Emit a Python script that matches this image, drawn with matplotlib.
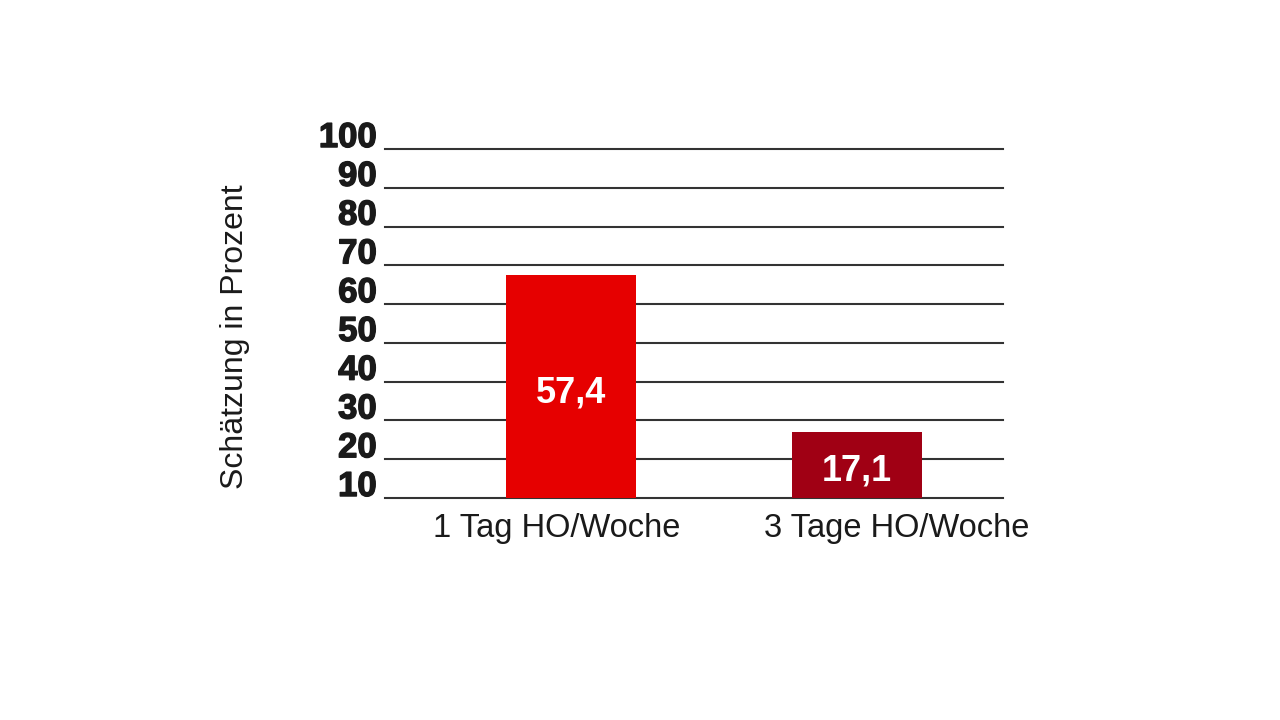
import matplotlib
matplotlib.use('Agg')
import matplotlib.pyplot as plt
import matplotlib.transforms as mtransforms
import matplotlib.patheffects as pe

categories = ['1 Tag HO/Woche', '3 Tage HO/Woche']
values = [57.4, 17.1]
value_labels = ['57,4', '17,1']
bar_colors = ['#e60000', '#a00014']
y_ticks = [10, 20, 30, 40, 50, 60, 70, 80, 90, 100]
base = 10

plt.rcParams['font.family'] = ['Liberation Sans', 'DejaVu Sans']

fig = plt.figure(figsize=(12.8, 7.2), dpi=100)
ax = fig.add_axes([0.3008, 0.3083, 0.4828, 0.4847])

x = list(range(len(categories)))
ax.bar(x, values, bottom=base, width=0.4545, color=bar_colors, zorder=3)

for xi, v, lab in zip(x, values, value_labels):
    ax.text(xi, base + v / 2 - 1.5, lab, color='white', fontsize=26,
            fontweight='bold', ha='center', va='center', zorder=4)

# grid lines
for t in y_ticks:
    ax.axhline(t, color='#333333', linewidth=1.5, zorder=1, clip_on=False)

ax.set_xlim(-0.65, 1.51)
ax.set_ylim(base, 100)
ax.set_yticks(y_ticks)
ax.set_yticklabels([str(t) for t in y_ticks], fontsize=25, fontweight='bold',
                   color='#1a1a1a')
ax.tick_params(axis='y', length=0, pad=6)
shift = mtransforms.ScaledTranslation(0, 15 / 100, fig.dpi_scale_trans)
for lbl in ax.get_yticklabels():
    lbl.set_transform(lbl.get_transform() + shift)
    lbl.set_path_effects([pe.withStroke(linewidth=1.0, foreground='#1a1a1a')])

ax.set_xticks(x)
ax.set_xticklabels(categories, fontsize=23.5, color='#1a1a1a')
ax.tick_params(axis='x', length=0, pad=9)
offsets = [-14, 40]
for lbl, dx in zip(ax.get_xticklabels(), offsets):
    lbl.set_transform(lbl.get_transform() +
                      mtransforms.ScaledTranslation(dx / 100, -2 / 100, fig.dpi_scale_trans))

for s in ax.spines.values():
    s.set_visible(False)

fig.text(235 / 1280, 1 - 337 / 720, 'Schätzung in Prozent', rotation=90,
         fontsize=23, color='#1a1a1a', ha='center', va='center')

fig.savefig('out.png', dpi=100)
